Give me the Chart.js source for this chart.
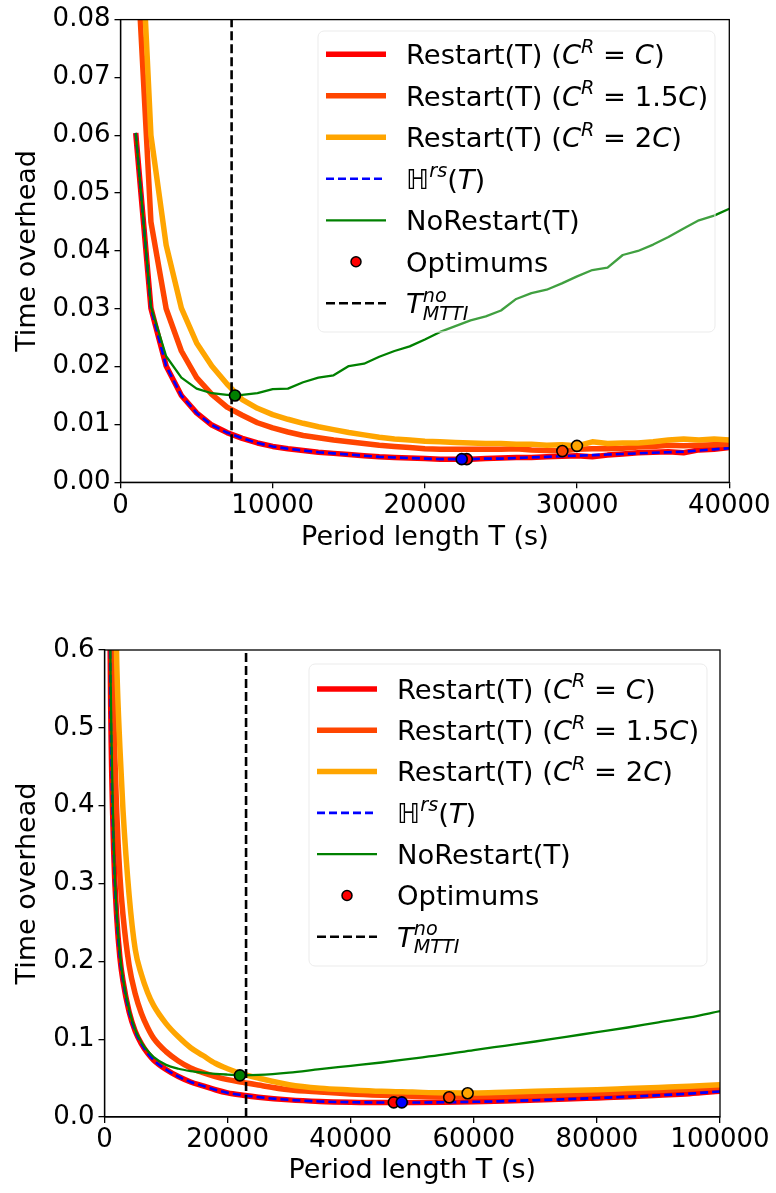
<!DOCTYPE html>
<html>
<head>
<meta charset="utf-8">
<script src="https://cdn.jsdelivr.net/npm/chart.js@4.4.0/dist/chart.umd.min.js"></script>
<style>
html, body { margin: 0; padding: 0; background: #fff; }
#wrap { position: relative; width: 776px; height: 1193px; }
canvas { position: absolute; left: 0; }
#top { top: 0; }
#bottom { top: 560px; }
</style>
</head>
<body>
<div id="wrap">
  <canvas id="top" width="776" height="560"></canvas>
  <canvas id="bottom" width="776" height="633"></canvas>
</div>
<script>
// ---- top panel data (period length T in s, time overhead) ----
const periodsTop = [1000, 2000, 3000, 4000, 5000, 6000, 7000, 8000, 9000, 10000,
  11000, 12000, 13000, 14000, 15000, 16000, 17000, 18000, 19000, 20000,
  21000, 22000, 23000, 24000, 25000, 26000, 27000, 28000, 29000, 30000,
  31000, 32000, 33000, 34000, 35000, 36000, 37000, 38000, 39000, 40000];
const restartTopC = [0.0604, 0.0301, 0.0201, 0.0150, 0.0120, 0.0099, 0.0086, 0.0076, 0.0068, 0.0062,
  0.0058, 0.0055, 0.0052, 0.0050, 0.0048, 0.0046, 0.0044, 0.0043, 0.0042, 0.0041,
  0.0040, 0.0040, 0.0040, 0.0041, 0.0042, 0.0043, 0.0043, 0.0044, 0.0045, 0.0046,
  0.0044, 0.0047, 0.0049, 0.0051, 0.0052, 0.0053, 0.0051, 0.0056, 0.0057, 0.0060];
const restartTop15 = [0.095, 0.0450, 0.0300, 0.0227, 0.0181, 0.0152, 0.0130, 0.0116, 0.0103, 0.0094,
  0.0087, 0.0081, 0.0077, 0.0073, 0.0070, 0.0067, 0.0064, 0.0062, 0.0060, 0.0058,
  0.0057, 0.0057, 0.0057, 0.0057, 0.0057, 0.0058, 0.0056, 0.0055, 0.0054, 0.0057,
  0.0058, 0.0058, 0.0059, 0.0061, 0.0062, 0.0064, 0.0063, 0.0064, 0.0065, 0.0066];
const restartTop2 = [0.115, 0.0600, 0.0410, 0.0301, 0.0241, 0.0201, 0.0170, 0.0143, 0.0128, 0.0117,
  0.0109, 0.0102, 0.0096, 0.0091, 0.0086, 0.0082, 0.0078, 0.0075, 0.0073, 0.0071,
  0.0070, 0.0069, 0.0068, 0.0067, 0.0067, 0.0066, 0.0066, 0.0064, 0.0065, 0.0063,
  0.0070, 0.0067, 0.0068, 0.0068, 0.0070, 0.0073, 0.0075, 0.0073, 0.0075, 0.0073];
const hrsTop = [0.0604, 0.0301, 0.0201, 0.0150, 0.0120, 0.0099, 0.0086, 0.0076, 0.0068, 0.0062,
  0.0058, 0.0055, 0.0052, 0.0050, 0.0048, 0.0046, 0.0044, 0.0043, 0.0042, 0.0041,
  0.0040, 0.0040, 0.0040, 0.0041, 0.0041, 0.0042, 0.0043, 0.0044, 0.0045, 0.0046,
  0.0047, 0.0048, 0.0049, 0.0050, 0.0051, 0.0052, 0.0053, 0.0055, 0.0057, 0.0059];
const noRestartTop = [0.0604, 0.0304, 0.0218, 0.0181, 0.0162, 0.0154, 0.0151, 0.0151, 0.0154, 0.0161,
  0.0162, 0.0173, 0.0181, 0.0185, 0.0201, 0.0205, 0.0217, 0.0227, 0.0235, 0.0247,
  0.0260, 0.0270, 0.0280, 0.0287, 0.0297, 0.0317, 0.0327, 0.0333, 0.0344, 0.0356,
  0.0367, 0.0371, 0.0393, 0.0400, 0.0411, 0.0424, 0.0439, 0.0453, 0.0461, 0.0473];
// optimums: C, Hrs, 1.5C, 2C, NoRestart
const optPeriodsTop = [22750, 22420, 29030, 29990, 7520];
const optValuesTop = [0.0040, 0.0040, 0.0054, 0.0063, 0.0150];
const tMttiTop = 7300;
const xTicksTop = [0, 10000, 20000, 30000, 40000];
const yTicksTop = [0, 0.01, 0.02, 0.03, 0.04, 0.05, 0.06, 0.07, 0.08];
const yTickLabelsTop = ['0.00', '0.01', '0.02', '0.03', '0.04', '0.05', '0.06', '0.07', '0.08'];

// ---- bottom panel data ----
const periodsBot = [500, 1000, 1500, 2000, 2500, 3000, 4000, 5000, 6000, 7000, 8000,
  10000, 12000, 14000, 16000, 18000, 20000, 22500, 25000, 30000, 35000, 40000,
  45000, 50000, 55000, 60000, 65000, 70000, 75000, 80000, 85000, 90000, 95000, 100000];
const restartBotC = [1.0, 0.53, 0.34, 0.255, 0.205, 0.175, 0.135, 0.110, 0.094, 0.082, 0.073,
  0.061, 0.052, 0.045, 0.040, 0.035, 0.031, 0.028, 0.0255, 0.022, 0.020, 0.019,
  0.0186, 0.0187, 0.019, 0.0196, 0.0205, 0.0217, 0.023, 0.0245, 0.026, 0.028, 0.030, 0.033];
const restartBot15 = [1.5, 0.78, 0.52, 0.39, 0.31, 0.26, 0.195, 0.158, 0.133, 0.115, 0.101,
  0.084, 0.072, 0.063, 0.057, 0.052, 0.048, 0.0445, 0.041, 0.035, 0.032, 0.0296,
  0.028, 0.0268, 0.0258, 0.026, 0.0265, 0.0274, 0.0288, 0.0304, 0.032, 0.034, 0.036, 0.0385];
const restartBot2 = [2.3, 1.15, 0.78, 0.58, 0.475, 0.395, 0.285, 0.215, 0.183, 0.160, 0.143,
  0.120, 0.103, 0.089, 0.079, 0.069, 0.062, 0.055, 0.050, 0.0415, 0.037, 0.0348,
  0.033, 0.032, 0.031, 0.0308, 0.0318, 0.033, 0.034, 0.035, 0.0365, 0.038, 0.0395, 0.0413];
const hrsBot = [1.0, 0.53, 0.34, 0.255, 0.205, 0.175, 0.135, 0.110, 0.094, 0.082, 0.073,
  0.061, 0.052, 0.045, 0.040, 0.035, 0.031, 0.028, 0.0255, 0.022, 0.020, 0.019,
  0.0186, 0.0186, 0.0189, 0.0195, 0.0204, 0.0216, 0.0229, 0.0244, 0.026, 0.0279, 0.030, 0.0328];
const noRestartBot = [1.0, 0.56, 0.35, 0.26, 0.21, 0.178, 0.138, 0.112, 0.096, 0.085, 0.077,
  0.067, 0.062, 0.059, 0.057, 0.0555, 0.0545, 0.0535, 0.054, 0.057, 0.0615, 0.0657,
  0.070, 0.075, 0.080, 0.086, 0.0915, 0.097, 0.103, 0.109, 0.115, 0.1217, 0.128, 0.136];
const optPeriodsBot = [47000, 48300, 56000, 59000, 22000];
const optValuesBot = [0.0188, 0.0188, 0.0253, 0.0305, 0.0535];
const tMttiBot = 23000;
const xTicksBot = [0, 20000, 40000, 60000, 80000, 100000];
const yTicksBot = [0, 0.1, 0.2, 0.3, 0.4, 0.5, 0.6];
const yTickLabelsBot = ['0.0', '0.1', '0.2', '0.3', '0.4', '0.5', '0.6'];

const optColors = ['#ff0000', '#0000ff', '#ff4500', '#ffa500', '#008000'];

// legend text runs: [text, style]  '' normal, 'i' italic, 'sup'/'sub' small italic
const legendLabels = [
  [['Restart(T) (', ''], ['C', 'i'], ['R', 'sup'], [' = ', ''], ['C', 'i'], [')', '']],
  [['Restart(T) (', ''], ['C', 'i'], ['R', 'sup'], [' = 1.5', ''], ['C', 'i'], [')', '']],
  [['Restart(T) (', ''], ['C', 'i'], ['R', 'sup'], [' = 2', ''], ['C', 'i'], [')', '']],
  [['\u210D', 'i'], ['rs', 'sup'], ['(', ''], ['T', 'i'], [')', '']],
  [['NoRestart(T)', '']],
  [['Optimums', '']],
  [['T', 'i'], ['no', 'suphold'], ['MTTI', 'sub']]
];

const FONT = '"DejaVu Sans"';
Chart.defaults.font.family = 'DejaVu Sans';
Chart.defaults.color = '#000';

function series(xs, ys) {
  return xs.map((x, i) => ({ x: x, y: ys[i] }));
}

function lineSet(label, xs, ys, color, width, dash, order, smooth) {
  return {
    label: label, data: series(xs, ys),
    borderColor: color, borderWidth: width, borderDash: dash || [],
    pointRadius: 0, fill: false, order: order, clip: 0,
    tension: smooth ? 0.4 : 0, cubicInterpolationMode: smooth ? 'monotone' : 'default',
    borderJoinStyle: 'round', borderCapStyle: 'butt'
  };
}

function drawRuns(ctx, runs, x, y, size) {
  let cx = x, held = 0;
  for (const [t, f] of runs) {
    const small = f === 'sup' || f === 'suphold' || f === 'sub';
    const fs = small ? size * 0.7 : size;
    ctx.font = (f ? 'italic ' : '') + fs + 'px ' + FONT;
    let dy = 0;
    if (f === 'sup' || f === 'suphold') dy = -size * 0.42;
    if (f === 'sub') dy = size * 0.24;
    ctx.fillText(t, cx, y + dy);
    const w = ctx.measureText(t).width;
    if (f === 'suphold') { held = w; } else { cx += Math.max(w, held); held = 0; }
  }
}

function legendPlugin(L) {
  return {
    id: 'mathLegend',
    afterDraw(chart) {
      const ctx = chart.ctx;
      ctx.save();
      ctx.beginPath();
      ctx.roundRect(L.x, L.y, L.w, L.h, 6);
      ctx.fillStyle = 'rgba(255,255,255,0.25)';
      ctx.fill();
      ctx.strokeStyle = '#ebebeb';
      ctx.lineWidth = 1;
      ctx.stroke();
      const styles = [
        { c: '#ff0000', w: 5.5 }, { c: '#ff4500', w: 5.5 }, { c: '#ffa500', w: 5.5 },
        { c: '#0000ff', w: 2.6, d: [8, 4] }, { c: '#008000', w: 2.3 },
        { marker: true }, { c: '#000', w: 2.6, d: [9, 4] }
      ];
      ctx.textBaseline = 'alphabetic';
      ctx.textAlign = 'left';
      styles.forEach((s, i) => {
        const cy = L.y + L.first + i * L.gap;
        if (s.marker) {
          ctx.beginPath();
          ctx.arc((L.h0 + L.h1) / 2, cy, 5, 0, Math.PI * 2);
          ctx.fillStyle = '#ff0000';
          ctx.fill();
          ctx.lineWidth = 1.5;
          ctx.strokeStyle = '#000';
          ctx.setLineDash([]);
          ctx.stroke();
        } else {
          ctx.beginPath();
          ctx.setLineDash(s.d || []);
          ctx.moveTo(L.h0, cy);
          ctx.lineTo(L.h1, cy);
          ctx.lineWidth = s.w;
          ctx.strokeStyle = s.c;
          ctx.lineCap = 'butt';
          ctx.stroke();
          ctx.setLineDash([]);
        }
        ctx.fillStyle = '#000';
        drawRuns(ctx, legendLabels[i], L.tx, cy + 9.8, 27.4);
      });
      ctx.restore();
    }
  };
}

const framePlugin = {
  id: 'frame',
  afterDatasetsDraw(chart) {
    const a = chart.chartArea, ctx = chart.ctx;
    ctx.save();
    ctx.strokeStyle = '#000';
    ctx.lineWidth = 1.3;
    ctx.strokeRect(a.left, a.top, a.right - a.left, a.bottom - a.top);
    ctx.restore();
  }
};

function buildChart(id, c) {
  const tickFont = { family: 'DejaVu Sans', size: 26 };
  const titleFont = { family: 'DejaVu Sans', size: 27 };
  return new Chart(document.getElementById(id), {
    type: 'line',
    data: {
      datasets: [
        lineSet('Restart(T) (C^R = C)', c.periods, c.restartC, '#ff0000', 5.5, null, 7, c.smooth),
        lineSet('Restart(T) (C^R = 1.5C)', c.periods, c.restart15, '#ff4500', 5.5, null, 6, c.smooth),
        lineSet('Restart(T) (C^R = 2C)', c.periods, c.restart2, '#ffa500', 5.5, null, 5, c.smooth),
        lineSet('H^rs(T)', c.periods, c.hrs, '#0000ff', 2.6, [8, 4], 4, c.smooth),
        lineSet('NoRestart(T)', c.periods, c.noRestart, '#008000', 2.3, null, 3, c.smooth),
        lineSet('T_MTTI^no', [c.tMtti, c.tMtti], [0, c.yTicks[c.yTicks.length - 1]], '#000', 2.6, [9, 4], 2, false),
        {
          label: 'Optimums', data: series(c.optPeriods, c.optValues), showLine: false,
          pointRadius: 5.5, pointBackgroundColor: optColors, pointBorderColor: '#000',
          pointBorderWidth: 1.6, order: 1, clip: false
        }
      ]
    },
    options: {
      responsive: false, animation: false, events: [],
      layout: { padding: { left: 0, top: c.padTop, right: c.padRight, bottom: 0 } },
      plugins: { legend: { display: false }, tooltip: { enabled: false } },
      scales: {
        x: {
          type: 'linear', min: 0, max: c.xTicks[c.xTicks.length - 1],
          afterBuildTicks: s => { s.ticks = c.xTicks.map(v => ({ value: v })); },
          afterFit: s => { s.height = c.xAxisH; },
          ticks: { font: tickFont, color: '#000', padding: 2, maxRotation: 0, autoSkip: false,
            callback: v => String(v) },
          grid: { display: true, drawOnChartArea: false, drawTicks: true, tickLength: 6,
            tickColor: '#000', color: '#000', lineWidth: 1.3 },
          border: { display: true, color: '#000', width: 1.3 },
          title: { display: true, text: 'Period length T (s)', font: titleFont, color: '#000',
            padding: { top: 0, bottom: 6 } }
        },
        y: {
          type: 'linear', min: 0, max: c.yTicks[c.yTicks.length - 1],
          afterBuildTicks: s => { s.ticks = c.yTicks.map(v => ({ value: v })); },
          afterFit: s => { s.width = c.yAxisW; },
          ticks: { font: tickFont, color: '#000', padding: 4, autoSkip: false,
            callback: (v, i) => c.yLabels[i] },
          grid: { display: true, drawOnChartArea: false, drawTicks: true, tickLength: 6,
            tickColor: '#000', color: '#000', lineWidth: 1.3 },
          border: { display: true, color: '#000', width: 1.3 },
          title: { display: true, text: 'Time overhead', font: titleFont, color: '#000',
            padding: { top: 12, bottom: 0 } }
        }
      }
    },
    plugins: [framePlugin, legendPlugin(c.legend)]
  });
}

buildChart('top', {
  periods: periodsTop, restartC: restartTopC, restart15: restartTop15, restart2: restartTop2,
  hrs: hrsTop, noRestart: noRestartTop, optPeriods: optPeriodsTop, optValues: optValuesTop,
  tMtti: tMttiTop, xTicks: xTicksTop, yTicks: yTicksTop, yLabels: yTickLabelsTop,
  padTop: 16, padRight: 46.7, yAxisW: 120.5, xAxisH: 77.7, smooth: false,
  legend: { x: 318, y: 31, w: 397, h: 301, first: 23.3, gap: 41.5, h0: 326, h1: 386, tx: 406 }
});

buildChart('bottom', {
  periods: periodsBot, restartC: restartBotC, restart15: restartBot15, restart2: restartBot2,
  hrs: hrsBot, noRestart: noRestartBot, optPeriods: optPeriodsBot, optValues: optValuesBot,
  tMtti: tMttiBot, xTicks: xTicksBot, yTicks: yTicksBot, yLabels: yTickLabelsBot,
  padTop: 90, padRight: 56, yAxisW: 104.5, xAxisH: 76, smooth: true,
  legend: { x: 309, y: 104, w: 398, h: 302, first: 25, gap: 41.3, h0: 317, h1: 377, tx: 397 }
});
</script>
</body>
</html>
